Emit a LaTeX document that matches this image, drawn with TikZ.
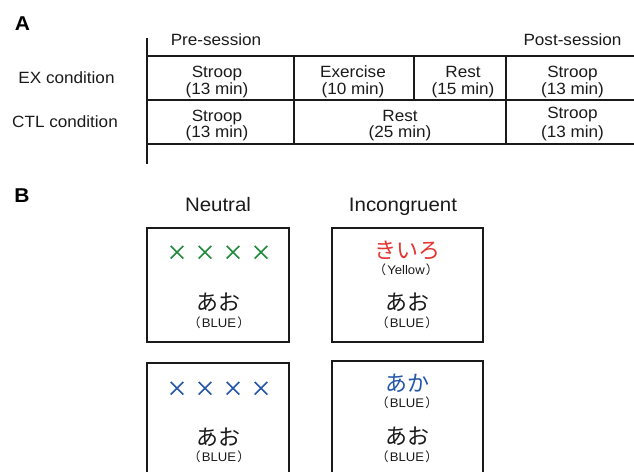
\documentclass[tikz,border=0pt]{standalone}
\usepackage{fontspec}
\setmainfont{Liberation Sans}[FakeStretch=1.05]
\newfontfamily\jp{Noto Sans CJK JP}
\definecolor{xgreen}{HTML}{1F8A3C}
\definecolor{xred}{HTML}{E3342F}
\definecolor{xblue}{HTML}{2356A8}
\definecolor{ink}{HTML}{1A1A1A}
\newcommand{\jparen}[1]{{\jp （}\kern1.2pt#1\kern1.2pt{\jp ）}}
\begin{document}
\begin{tikzpicture}[x=1pt,y=-1pt,
  lab/.style={font=\fontsize{16.3}{17}\selectfont, anchor=base, inner sep=0pt, text=ink},
  big/.style={font=\fontsize{19.5}{21}\selectfont, anchor=base, inner sep=0pt, text=ink},
  panel/.style={font=\fontsize{20}{22}\selectfont\bfseries, inner sep=0pt, text=black},
  gridline/.style={line width=1.4pt, draw=ink},
  boxline/.style={line width=1.4pt, draw=ink},
  jpbig/.style={font=\fontsize{22}{24}\selectfont\jp, inner sep=0pt},
  jpsmall/.style={font=\fontsize{12.5}{14}\selectfont, inner sep=0pt, text=ink},
  xmark/.style={line width=1.5pt}]
\useasboundingbox (0,0) rectangle (634,471);
\clip (0,0) rectangle (634,471);
% ---------- Panel A ----------
\node[panel] (A) at (22.5,24) {A};
\draw[gridline] (147,38) -- (147,164);
\draw[gridline] (147,56) -- (634,56);
\draw[gridline] (147,100) -- (634,100);
\draw[gridline] (147,144) -- (634,144);
\draw[gridline] (294,56) -- (294,144);
\draw[gridline] (414,56) -- (414,100);
\draw[gridline] (506,56) -- (506,144);

\node[lab] (pre) at (216,45.5) {Pre-session};
\node[lab] (post) at (572.5,45.5) {Post-session};
\node[lab] (ex) at (66.5,83) {EX condition};
\node[lab] (ctl) at (65,127) {CTL condition};

\node[lab] (s1a) at (217,77.5) {Stroop};
\node[lab] (s1b) at (217,94.5) {(13 min)};
\node[lab] (e1a) at (353,77.5) {Exercise};
\node[lab] (e1b) at (353,94.5) {(10 min)};
\node[lab] (r1a) at (463,77.5) {Rest};
\node[lab] (r1b) at (463,94.5) {(15 min)};
\node[lab] (p1a) at (572.5,77.5) {Stroop};
\node[lab] (p1b) at (572.5,94.5) {(13 min)};

\node[lab] (s2a) at (217,121) {Stroop};
\node[lab] (s2b) at (217,137) {(13 min)};
\node[lab] (r2a) at (400,121.5) {Rest};
\node[lab] (r2b) at (400,137.5) {(25 min)};
\node[lab] (p2a) at (572.5,118) {Stroop};
\node[lab] (p2b) at (572.5,137) {(13 min)};

% ---------- Panel B ----------
\node[panel] (B) at (22,196) {B};
\node[big] (neu) at (218,211) {Neutral};
\node[big] (inc) at (403,211) {Incongruent};

\draw[boxline] (147,228) rectangle (289,342);
\draw[boxline] (332,228) rectangle (483,342);
\draw[boxline] (147,363) rectangle (289,490);
\draw[boxline] (332,361) rectangle (483,490);

% neutral top: green crosses
\foreach \cx in {177,205,233,261}{
  \draw[xmark,xgreen] (\cx-6.3,246) -- (\cx+6.3,258.6) (\cx-6.3,258.6) -- (\cx+6.3,246);
}
\node[jpbig,text=ink] (n1w) at (218,302.5) {あお};
\node[jpsmall] (n1e) at (219,323) {\jparen{BLUE}};

% incongruent top
\node[jpbig,text=xred] (i1c) at (407,250) {きいろ};
\node[jpsmall] (i1ce) at (406,270) {\jparen{Yellow}};
\node[jpbig,text=ink] (i1w) at (407,302.5) {あお};
\node[jpsmall] (i1e) at (407,323) {\jparen{BLUE}};

% neutral bottom: blue crosses
\foreach \cx in {177,205,233,261}{
  \draw[xmark,xblue] (\cx-6.3,382) -- (\cx+6.3,394.6) (\cx-6.3,394.6) -- (\cx+6.3,382);
}
\node[jpbig,text=ink] (n2w) at (218,437) {あお};
\node[jpsmall] (n2e) at (219,457) {\jparen{BLUE}};

% incongruent bottom
\node[jpbig,text=xblue] (i2c) at (407,383.5) {あか};
\node[jpsmall] (i2ce) at (407,403) {\jparen{BLUE}};
\node[jpbig,text=ink] (i2w) at (407,436.5) {あお};
\node[jpsmall] (i2e) at (407,457) {\jparen{BLUE}};
\end{tikzpicture}
\end{document}
